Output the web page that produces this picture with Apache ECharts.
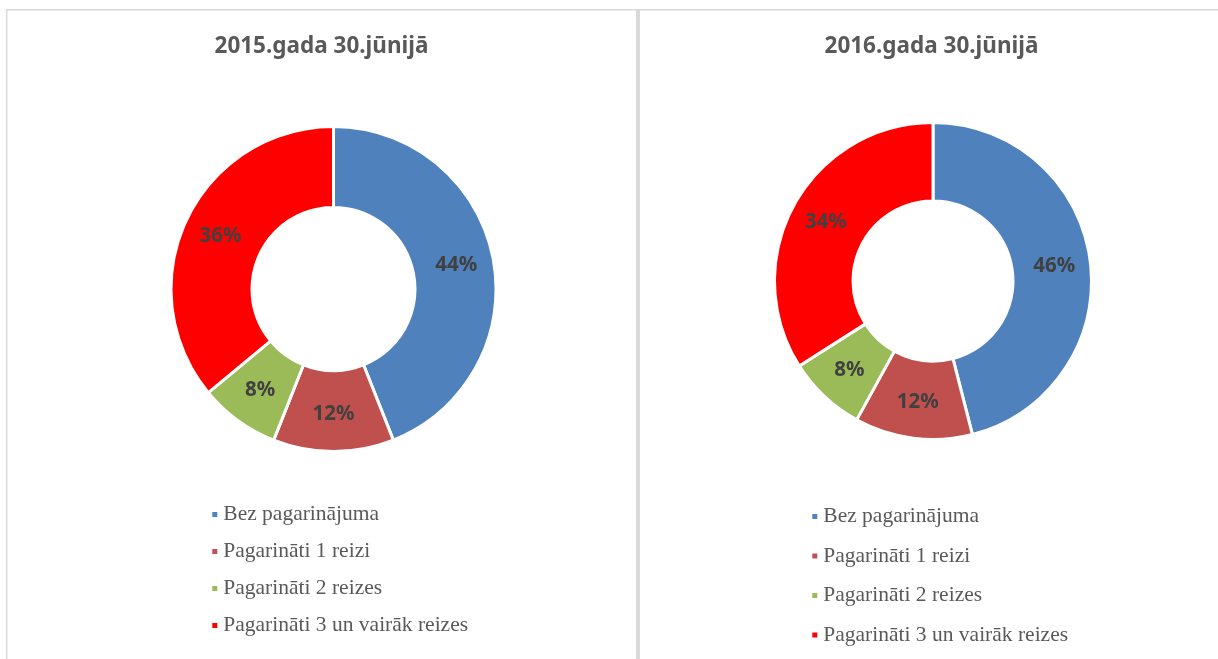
<!DOCTYPE html>
<html>
<head>
<meta charset="utf-8">
<script src="https://cdn.jsdelivr.net/npm/echarts@6/dist/echarts.min.js"></script>
<style>
html,body{margin:0;padding:0;background:#fff;}
#chart{width:1218px;height:659px;}
</style>
</head>
<body>
<div id="chart"></div>
<script>
const categories = ['Bez pagarinājuma', 'Pagarināti 1 reizi', 'Pagarināti 2 reizes', 'Pagarināti 3 un vairāk reizes'];
const titles = ['2015.gada 30.jūnijā', '2016.gada 30.jūnijā'];
const values2015 = [44, 12, 8, 36];
const values2016 = [46, 12, 8, 34];
const colors = ['#4F81BD', '#C0504D', '#9BBB59', '#FF0000'];

const chart = echarts.init(document.getElementById('chart'), null, {renderer: 'canvas'});

function pieSeries(name, vals, center, radius) {
  return {
    name: name,
    type: 'pie',
    center: center,
    radius: radius,
    startAngle: 90,
    clockwise: true,
    avoidLabelOverlap: false,
    silent: true,
    itemStyle: {borderColor: '#ffffff', borderWidth: 3},
    label: {
      show: true,
      position: 'inside',
      formatter: '{d}%',
      color: '#404040',
      fontFamily: 'Noto Sans',
      fontWeight: 'bold',
      fontSize: 20.5
    },
    labelLine: {show: false},
    data: categories.map((c, i) => ({name: c, value: vals[i], itemStyle: {color: colors[i]}}))
  };
}

function legend(left, top, gap) {
  return {
    orient: 'vertical',
    left: left,
    top: top,
    padding: 0,
    icon: 'rect',
    itemWidth: 7,
    itemHeight: 7,
    itemGap: gap,
    selectedMode: false,
    data: categories,
    textStyle: {
      fontFamily: 'Liberation Serif',
      fontSize: 21.5,
      lineHeight: 22,
      color: '#595959',
      padding: [0, 0, 0, 0]
    }
  };
}

const titleStyle = {fontFamily: 'Noto Sans', fontWeight: 'bold', fontSize: 22.5, color: '#595959'};

chart.setOption({
  animation: false,
  color: colors,
  title: [
    {text: titles[0], left: 321.5, top: 35, textAlign: 'center', padding: 0, textStyle: titleStyle},
    {text: titles[1], left: 931.5, top: 35, textAlign: 'center', padding: 0, textStyle: titleStyle}
  ],
  legend: [
    Object.assign(legend(210.3, 503.5, 15), {seriesIndex: 0}),
    Object.assign(legend(810.3, 505.5, 17.5), {seriesIndex: 1})
  ],
  graphic: [
    {type: 'line', shape: {x1: 6, y1: 9.7, x2: 1218, y2: 9.7}, style: {stroke: '#d9d9d9', lineWidth: 1.5}, silent: true},
    {type: 'line', shape: {x1: 6.7, y1: 9, x2: 6.7, y2: 659}, style: {stroke: '#d9d9d9', lineWidth: 1.5}, silent: true},
    {type: 'line', shape: {x1: 638, y1: 9, x2: 638, y2: 659}, style: {stroke: '#d9d9d9', lineWidth: 4}, silent: true}
  ],
  series: [
    pieSeries('2015', values2015, [333.5, 289], [81.5, 162.5]),
    pieSeries('2016', values2016, [933, 281], [80, 158.5])
  ]
});
</script>
</body>
</html>
